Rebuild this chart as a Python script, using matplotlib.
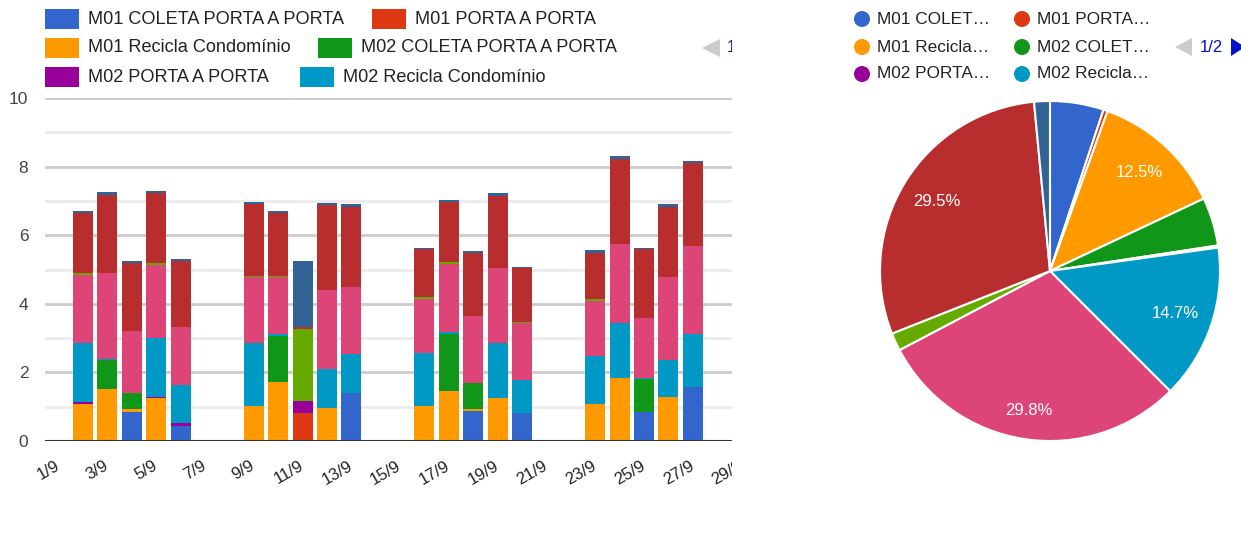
import math
import matplotlib
matplotlib.use('Agg')
import matplotlib.pyplot as plt
from matplotlib.patches import Rectangle, Ellipse, Polygon

plt.rcParams['font.family'] = ['Liberation Sans', 'DejaVu Sans']

W, H = 1241, 543

# ---------------- data ----------------
days = [2, 3, 4, 5, 6, 9, 10, 11, 12, 13, 16, 17, 18, 19, 20, 23, 24, 25, 26, 27]
tick_days = list(range(1, 30, 2))
tick_labels = [f"{d}/9" for d in tick_days]

series_names = [
    "M01 COLETA PORTA A PORTA", "M01 PORTA A PORTA", "M01 Recicla Condomínio",
    "M02 COLETA PORTA A PORTA", "M02 PORTA A PORTA", "M02 Recicla Condomínio",
    "M03 COLETA PORTA A PORTA", "M03 PORTA A PORTA", "M03 Recicla Condomínio",
    "M04 COLETA PORTA A PORTA",
]
pie_legend_labels = ["M01 COLET…", "M01 PORTA…", "M01 Recicla…",
                     "M02 COLET…", "M02 PORTA…", "M02 Recicla…"]
colors = ["#3366cc", "#dc3912", "#ff9900", "#109618", "#990099", "#0099c6",
          "#dd4477", "#66aa00", "#b82e2e", "#316395"]

m01_coleta = [0, 0, 0.86, 0, 0.44, 0, 0, 0, 0, 1.39, 0, 0, 0.87, 0, 0.81, 0, 0, 0.86, 0, 1.56]
m01_porta = [0, 0, 0, 0, 0, 0, 0, 0.81, 0, 0, 0, 0, 0, 0, 0, 0, 0, 0, 0, 0]
m01_recicla = [1.08, 1.51, 0.06, 1.24, 0, 1.02, 1.72, 0, 0.97, 0, 1.02, 1.46, 0.05, 1.24, 0, 1.07, 1.83, 0, 1.29, 0]
m02_coleta = [0, 0.85, 0.49, 0, 0, 0, 1.34, 0, 0, 0, 0, 1.66, 0.76, 0, 0, 0, 0, 0.94, 0, 0]
m02_porta = [0.07, 0, 0, 0.05, 0.08, 0, 0, 0.37, 0, 0, 0, 0, 0, 0, 0, 0, 0, 0, 0, 0]
m02_recicla = [1.70, 0.03, 0, 1.72, 1.10, 1.83, 0.06, 0, 1.12, 1.14, 1.56, 0.05, 0, 1.61, 0.97, 1.41, 1.60, 0.04, 1.07, 1.56]
m03_coleta = [1.99, 2.51, 1.81, 2.12, 1.71, 1.92, 1.65, 0, 2.31, 1.97, 1.56, 1.99, 1.97, 2.20, 1.65, 1.59, 2.30, 1.76, 2.41, 2.57]
m03_porta = [0.05, 0, 0, 0.05, 0, 0.05, 0.05, 2.09, 0, 0, 0.05, 0.06, 0, 0, 0.05, 0.06, 0, 0, 0, 0]
m03_recicla = [1.77, 2.27, 1.98, 2.06, 1.92, 2.09, 1.84, 0.06, 2.47, 2.31, 1.40, 1.76, 1.84, 2.09, 1.55, 1.34, 2.48, 1.99, 2.04, 2.41]
m04_coleta = [0.05, 0.10, 0.06, 0.06, 0.06, 0.06, 0.05, 1.93, 0.06, 0.10, 0.05, 0.05, 0.05, 0.08, 0.05, 0.10, 0.10, 0.05, 0.10, 0.05]

series_values = [m01_coleta, m01_porta, m01_recicla, m02_coleta, m02_porta,
                 m02_recicla, m03_coleta, m03_porta, m03_recicla, m04_coleta]

pie_shares = [5.1, 0.4, 12.5, 4.6, 0.2, 14.7, 29.8, 1.7, 29.5, 1.5]

# ---------------- figure ----------------
fig = plt.figure(figsize=(W / 100, H / 100), dpi=100)


def fx(px):
    return px / W


def fy(py):
    return 1 - py / H


# bar chart axes
ax = fig.add_axes([fx(45), fy(441), fx(766 - 45), (441 - 98) / H])
ax.set_xlim(0.443, 30.0)
ax.set_ylim(0, 10)
for v in range(1, 11):
    if v % 2 == 0:
        ax.axhline(v, color="#cccccc", lw=2.0, zorder=0)
    else:
        ax.axhline(v, color="#ebebeb", lw=2.0, zorder=0)

bottom = [0.0] * len(days)
for vals, col, name in zip(series_values, colors, series_names):
    ax.bar(days, vals, width=0.82, bottom=bottom, color=col, label=name,
           zorder=2, linewidth=0)
    bottom = [b + v for b, v in zip(bottom, vals)]

ax.axhline(0, color="#333333", lw=1.5, zorder=3)
for s in ax.spines.values():
    s.set_visible(False)
ax.set_yticks([0, 2, 4, 6, 8, 10])
ax.set_yticklabels(["0", "2", "4", "6", "8", "10"], fontsize=12.5, color="#444444")
ax.tick_params(axis="y", length=0, pad=12)
ax.set_xticks(tick_days)
ax.set_xticklabels(tick_labels, fontsize=12, color="#222222", rotation=30,
                   ha="right", va="center", rotation_mode="anchor")
ax.tick_params(axis="x", length=0, pad=17)

# white mask to clip the right part of the bar chart
fig.patches.append(Rectangle((fx(732), 0), fx(860 - 732), 1, transform=fig.transFigure,
                             facecolor="white", edgecolor="none", zorder=10))

# bar legend (flow layout)
leg_items = [
    (0, 45, 19), (1, 372, 19),
    (2, 45, 48), (3, 318, 48),
    (4, 45, 77), (5, 300, 77),
]
for idx, x0, yc in leg_items:
    fig.patches.append(Rectangle((fx(x0), fy(yc + 10)), fx(34), 20 / H,
                                 transform=fig.transFigure, facecolor=colors[idx],
                                 edgecolor="none", zorder=4))
    fig.text(fx(x0 + 43), fy(yc), series_names[idx], fontsize=13.1, color="#222222",
             va="center", ha="left", zorder=4)
fig.patches.append(Polygon([(fx(702), fy(48)), (fx(720), fy(39)), (fx(720), fy(57))],
                           closed=True, transform=fig.transFigure, facecolor="#cccccc",
                           edgecolor="none", zorder=4))
fig.text(fx(727), fy(48), "1/2", fontsize=12, color="#0011cc", va="center", ha="left", zorder=4)

# pie chart
ax2 = fig.add_axes([fx(880), fy(441), fx(340), 340 / H])
wedges, texts, autotexts = ax2.pie(
    pie_shares, colors=colors, startangle=90, counterclock=False,
    wedgeprops=dict(edgecolor="white", linewidth=1.5),
    autopct=lambda p: f"{p:.1f}%" if p > 10 else "",
    pctdistance=0.78, textprops=dict(color="white", fontsize=12))
# the large bottom slice's label sits a little further out
w = wedges[6]
mid = math.radians((w.theta1 + w.theta2) / 2)
autotexts[6].set_position((0.83 * math.cos(mid), 0.83 * math.sin(mid)))
ax2.set_xlim(-1.0, 1.0)
ax2.set_ylim(-1.0, 1.0)
ax2.set_aspect("auto")
ax2.set_zorder(11)

# pie legend
pie_leg = [
    (0, 862, 19), (1, 1022, 19),
    (2, 862, 47), (3, 1022, 47),
    (4, 862, 74), (5, 1022, 74),
]
for idx, x0, yc in pie_leg:
    fig.patches.append(Ellipse((fx(x0), fy(yc)), 16 / W, 16 / H, transform=fig.transFigure,
                               facecolor=colors[idx], edgecolor="none", zorder=12))
    fig.text(fx(x0 + 15), fy(yc), pie_legend_labels[idx], fontsize=12.4,
             color="#222222", va="center", ha="left", zorder=12)

fig.patches.append(Polygon([(fx(1175), fy(47)), (fx(1192), fy(38)), (fx(1192), fy(56))],
                           closed=True, transform=fig.transFigure, facecolor="#cccccc",
                           edgecolor="none", zorder=12))
fig.text(fx(1200), fy(47), "1/2", fontsize=12, color="#0011cc", va="center", ha="left", zorder=12)
fig.patches.append(Polygon([(fx(1231), fy(38)), (fx(1245), fy(47)), (fx(1231), fy(56))],
                           closed=True, transform=fig.transFigure, facecolor="#0011cc",
                           edgecolor="none", zorder=12))

fig.savefig("out.png", dpi=100)
